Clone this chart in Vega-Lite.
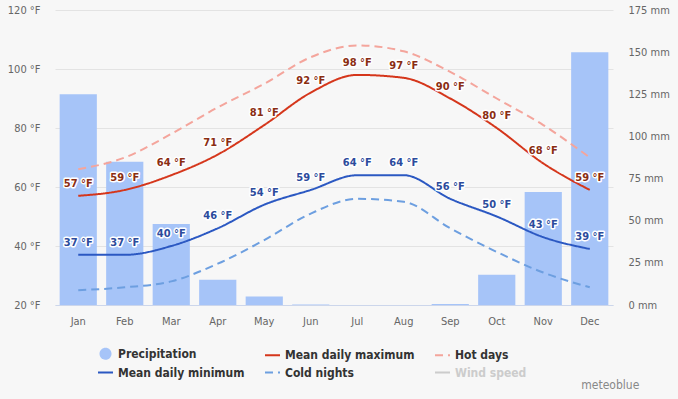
{
  "$schema": "https://vega.github.io/schema/vega-lite/v6.json",
  "width": 558,
  "height": 295,
  "autosize": {"type": "none"},
  "padding": {"left": 55, "top": 10, "right": 65, "bottom": 94},
  "background": "#f7f7f7",
  "config": {"view": {"stroke": null}, "font": "DejaVu Sans Condensed"},
  "title": {"text": "meteoblue", "orient": "bottom", "anchor": "end", "fontSize": 12, "fontWeight": "normal", "color": "#888888", "font": "DejaVu Sans Condensed", "dx": -30, "offset": 1},
  "data": {"values": [
    {"month": "Jan", "series": "Precipitation", "value": 125},
    {"month": "Feb", "series": "Precipitation", "value": 85},
    {"month": "Mar", "series": "Precipitation", "value": 48},
    {"month": "Apr", "series": "Precipitation", "value": 15},
    {"month": "May", "series": "Precipitation", "value": 5},
    {"month": "Jun", "series": "Precipitation", "value": 0.3},
    {"month": "Jul", "series": "Precipitation", "value": 0},
    {"month": "Aug", "series": "Precipitation", "value": 0},
    {"month": "Sep", "series": "Precipitation", "value": 0.6},
    {"month": "Oct", "series": "Precipitation", "value": 18},
    {"month": "Nov", "series": "Precipitation", "value": 67},
    {"month": "Dec", "series": "Precipitation", "value": 150},
    {"month": "Jan", "series": "Mean daily maximum", "value": 57},
    {"month": "Feb", "series": "Mean daily maximum", "value": 59},
    {"month": "Mar", "series": "Mean daily maximum", "value": 64},
    {"month": "Apr", "series": "Mean daily maximum", "value": 71},
    {"month": "May", "series": "Mean daily maximum", "value": 81},
    {"month": "Jun", "series": "Mean daily maximum", "value": 92},
    {"month": "Jul", "series": "Mean daily maximum", "value": 98},
    {"month": "Aug", "series": "Mean daily maximum", "value": 97},
    {"month": "Sep", "series": "Mean daily maximum", "value": 90},
    {"month": "Oct", "series": "Mean daily maximum", "value": 80},
    {"month": "Nov", "series": "Mean daily maximum", "value": 68},
    {"month": "Dec", "series": "Mean daily maximum", "value": 59},
    {"month": "Jan", "series": "Mean daily minimum", "value": 37},
    {"month": "Feb", "series": "Mean daily minimum", "value": 37},
    {"month": "Mar", "series": "Mean daily minimum", "value": 40},
    {"month": "Apr", "series": "Mean daily minimum", "value": 46},
    {"month": "May", "series": "Mean daily minimum", "value": 54},
    {"month": "Jun", "series": "Mean daily minimum", "value": 59},
    {"month": "Jul", "series": "Mean daily minimum", "value": 64},
    {"month": "Aug", "series": "Mean daily minimum", "value": 64},
    {"month": "Sep", "series": "Mean daily minimum", "value": 56},
    {"month": "Oct", "series": "Mean daily minimum", "value": 50},
    {"month": "Nov", "series": "Mean daily minimum", "value": 43},
    {"month": "Dec", "series": "Mean daily minimum", "value": 39},
    {"month": "Jan", "series": "Hot days", "value": 66},
    {"month": "Feb", "series": "Hot days", "value": 70},
    {"month": "Mar", "series": "Hot days", "value": 78},
    {"month": "Apr", "series": "Hot days", "value": 87},
    {"month": "May", "series": "Hot days", "value": 95},
    {"month": "Jun", "series": "Hot days", "value": 104},
    {"month": "Jul", "series": "Hot days", "value": 108},
    {"month": "Aug", "series": "Hot days", "value": 106},
    {"month": "Sep", "series": "Hot days", "value": 99},
    {"month": "Oct", "series": "Hot days", "value": 90},
    {"month": "Nov", "series": "Hot days", "value": 81},
    {"month": "Dec", "series": "Hot days", "value": 70},
    {"month": "Jan", "series": "Cold nights", "value": 25},
    {"month": "Feb", "series": "Cold nights", "value": 26},
    {"month": "Mar", "series": "Cold nights", "value": 28},
    {"month": "Apr", "series": "Cold nights", "value": 34},
    {"month": "May", "series": "Cold nights", "value": 42},
    {"month": "Jun", "series": "Cold nights", "value": 51},
    {"month": "Jul", "series": "Cold nights", "value": 56},
    {"month": "Aug", "series": "Cold nights", "value": 55},
    {"month": "Sep", "series": "Cold nights", "value": 46},
    {"month": "Oct", "series": "Cold nights", "value": 38},
    {"month": "Nov", "series": "Cold nights", "value": 31},
    {"month": "Dec", "series": "Cold nights", "value": 26}
  ]},
  "transform": [{"calculate": "indexof(['Jan','Feb','Mar','Apr','May','Jun','Jul','Aug','Sep','Oct','Nov','Dec'], datum.month)", "as": "idx"}],
  "encoding": {
    "x": {
      "field": "month", "type": "nominal",
      "sort": ["Jan","Feb","Mar","Apr","May","Jun","Jul","Aug","Sep","Oct","Nov","Dec"],
      "scale": {"paddingInner": 0.2, "paddingOuter": 0.1},
      "axis": {"title": null, "labelAngle": 0, "ticks": false, "domainColor": "#ccd6eb", "labelColor": "#666666", "labelFontSize": 11, "labelFont": "DejaVu Sans Condensed", "labelPadding": 10, "grid": false}
    }
  },
  "layer": [
    {
      "transform": [{"filter": "datum.series === 'Precipitation'"}],
      "mark": {"type": "bar"},
      "encoding": {
        "y": {"field": "value", "type": "quantitative", "scale": {"domain": [0, 175], "nice": false},
          "axis": {"orient": "right", "title": null, "values": [0,25,50,75,100,125,150,175], "grid": false, "domain": false, "ticks": false, "labelPadding": 15, "labelColor": "#666666", "labelFontSize": 11, "labelFont": "DejaVu Sans Condensed", "labelExpr": "datum.value + ' mm'"}},
        "color": {
          "field": "series", "type": "nominal",
          "scale": {"domain": ["Precipitation","Mean daily maximum","Hot days","Mean daily minimum","Cold nights","Wind speed"],
                    "range": ["#a6c4f8","#d5361b","#f4a59c","#2b58c2","#6d9fe0","#cccccc"]},
          "legend": {
            "title": null, "orient": "none", "legendX": 42, "legendY": 335, "direction": "horizontal", "columns": 3,
            "columnPadding": 16, "rowPadding": 1, "labelFont": "DejaVu Sans Condensed", "labelFontWeight": "bold", "labelFontSize": 12,
            "labelColor": {"expr": "datum.label === 'Wind speed' ? '#cccccc' : '#333333'"},
            "symbolType": {"expr": "datum.label === 'Precipitation' ? 'circle' : 'stroke'"},
            "symbolSize": {"expr": "datum.label === 'Precipitation' ? 100 : 225"},
            "symbolStrokeWidth": 2
          }
        }
      }
    },
    {
      "encoding": {
        "y": {"field": "value", "type": "quantitative", "scale": {"domain": [20, 120], "nice": false},
          "axis": {"orient": "left", "title": null, "values": [20,40,60,80,100,120], "grid": true, "gridColor": "#e3e3e3", "domain": false, "ticks": false, "labelPadding": 15, "labelColor": "#666666", "labelFontSize": 11, "labelFont": "DejaVu Sans Condensed", "labelExpr": "datum.value + ' °F'"}}
      },
      "layer": [
        {
          "transform": [{"filter": "datum.series !== 'Precipitation'"}],
          "mark": {"type": "line", "interpolate": "monotone", "strokeWidth": 2},
          "encoding": {
            "color": {"field": "series", "type": "nominal"},
            "strokeDash": {"field": "series", "type": "nominal",
              "scale": {"domain": ["Precipitation","Mean daily maximum","Hot days","Mean daily minimum","Cold nights","Wind speed"],
                        "range": [[1,0],[1,0],[8,5],[1,0],[8,5],[1,0]]}},
            "order": {"field": "idx", "type": "quantitative"}
          }
        },
        {
          "transform": [{"filter": "datum.series === 'Mean daily maximum' || datum.series === 'Mean daily minimum'"}, {"calculate": "datum.value + ' °F'", "as": "label"}],
          "mark": {"type": "text", "dy": -12, "fontSize": 11, "fontWeight": "bold", "font": "DejaVu Sans Condensed", "stroke": "#ffffff", "strokeWidth": 3, "strokeJoin": "round"},
          "encoding": {"text": {"field": "label"}, "fill": {"value": "#ffffff"}}
        },
        {
          "transform": [{"filter": "datum.series === 'Mean daily maximum' || datum.series === 'Mean daily minimum'"}, {"calculate": "datum.value + ' °F'", "as": "label"}],
          "mark": {"type": "text", "dy": -12, "fontSize": 11, "fontWeight": "bold", "font": "DejaVu Sans Condensed"},
          "encoding": {"text": {"field": "label"},
            "fill": {"condition": {"test": "datum.series === 'Mean daily maximum'", "value": "#8a2d12"}, "value": "#2c4b9c"}}
        }
      ]
    }
  ],
  "resolve": {"scale": {"y": "independent"}}
}
